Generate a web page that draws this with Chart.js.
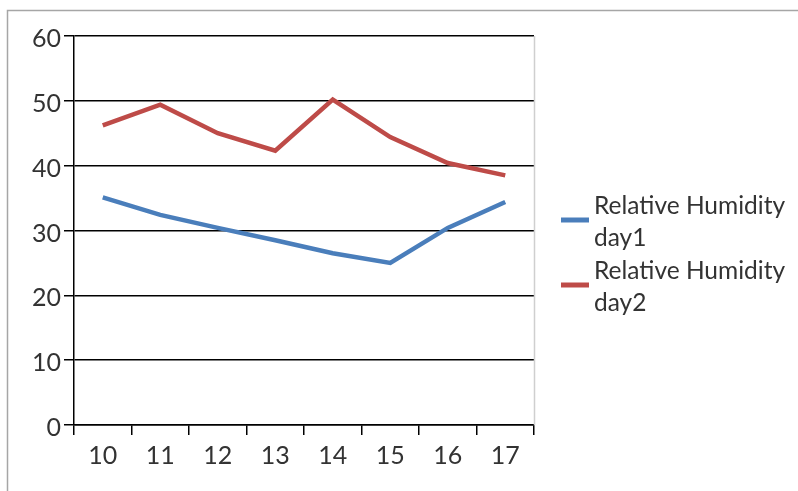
<!DOCTYPE html>
<html>
<head>
<meta charset="utf-8">
<script src="https://cdn.jsdelivr.net/npm/chart.js@4/dist/chart.umd.min.js"></script>
<style>
  html, body { margin: 0; padding: 0; background: #fff; }
  canvas { display: block; }
</style>
</head>
<body>
<canvas id="chart" width="798" height="491"></canvas>
<script>
// Hours of the day on the x axis
const hours = ['10', '11', '12', '13', '14', '15', '16', '17'];
// Relative humidity (%) for each day
const humidityDay1 = [35.1, 32.4, 30.4, 28.5, 26.5, 25.0, 30.4, 34.4];
const humidityDay2 = [46.2, 49.4, 45.0, 42.3, 50.2, 44.4, 40.4, 38.5];
const seriesNames = ['Relative Humidity day1', 'Relative Humidity day2'];
// Y axis range
const yMin = 0, yMax = 60, yStep = 10;

const FONT = 'Lato, "Liberation Sans", sans-serif';
const TEXT = '#333333';

// Frame lines and the wrapped legend on the right
const framePlugin = {
  id: 'frame',
  beforeDraw(chart) {
    const ctx = chart.ctx;
    ctx.save();
    ctx.strokeStyle = '#a6a6a6';
    ctx.lineWidth = 1.5;
    ctx.beginPath();
    ctx.moveTo(7.5, chart.height);
    ctx.lineTo(7.5, 10.5);
    ctx.lineTo(chart.width, 10.5);
    ctx.stroke();
    ctx.restore();
  },
  afterDatasetsDraw(chart) {
    const ctx = chart.ctx;
    const a = chart.chartArea;
    ctx.save();
    // right edge of the plot area
    ctx.strokeStyle = '#cfcfcf';
    ctx.lineWidth = 1.5;
    ctx.beginPath();
    ctx.moveTo(a.right + 0.5, a.top);
    ctx.lineTo(a.right + 0.5, a.bottom);
    ctx.stroke();

    // legend
    const itemH = 65;
    const ds = chart.data.datasets;
    const center = (a.top + a.bottom) / 2 + 22;
    const start = center - itemH * ds.length / 2 + itemH / 2;
    ctx.font = '24.5px ' + FONT;
    ctx.fillStyle = TEXT;
    ctx.textBaseline = 'alphabetic';
    ctx.textAlign = 'left';
    ds.forEach((d, i) => {
      const y = start + i * itemH;
      ctx.strokeStyle = d.borderColor;
      ctx.lineWidth = 5;
      ctx.beginPath();
      ctx.moveTo(a.right + 27, y);
      ctx.lineTo(a.right + 55, y);
      ctx.stroke();
      const words = d.label.split(' ');
      const line1 = words.slice(0, 2).join(' ');
      const line2 = words.slice(2).join(' ');
      ctx.fillText(line1, a.right + 60, y - 6);
      ctx.fillText(line2, a.right + 60, y + 26);
    });
    ctx.restore();
  }
};

new Chart(document.getElementById('chart'), {
  type: 'line',
  data: {
    labels: hours,
    datasets: [
      {
        label: seriesNames[0],
        data: humidityDay1,
        borderColor: '#4a7ebb',
        backgroundColor: '#4a7ebb',
        borderWidth: 4.5,
        pointRadius: 0,
        tension: 0
      },
      {
        label: seriesNames[1],
        data: humidityDay2,
        borderColor: '#be4b48',
        backgroundColor: '#be4b48',
        borderWidth: 4.5,
        pointRadius: 0,
        tension: 0
      }
    ]
  },
  options: {
    responsive: false,
    animation: false,
    layout: { padding: { top: 36, right: 264, left: 0, bottom: 0 } },
    plugins: {
      legend: { display: false },
      tooltip: { enabled: false }
    },
    scales: {
      x: {
        offset: true,
        grid: {
          offset: true,
          drawOnChartArea: false,
          drawTicks: true,
          tickLength: 10,
          color: '#000',
          lineWidth: 1.5
        },
        border: { display: true, color: '#000', width: 1.5 },
        ticks: {
          color: TEXT,
          font: { family: FONT, size: 25 },
          padding: 6,
          maxRotation: 0
        },
        afterFit(scale) { scale.height = 66; }
      },
      y: {
        min: yMin,
        max: yMax,
        grid: {
          color: '#000',
          lineWidth: 1.5,
          drawTicks: true,
          tickLength: 10
        },
        border: { display: true, color: '#000', width: 1.5 },
        ticks: {
          stepSize: yStep,
          color: TEXT,
          font: { family: FONT, size: 25 },
          padding: 3,
          labelOffset: 3
        },
        afterFit(scale) { scale.width = 74; }
      }
    }
  },
  plugins: [framePlugin]
});
</script>
</body>
</html>
